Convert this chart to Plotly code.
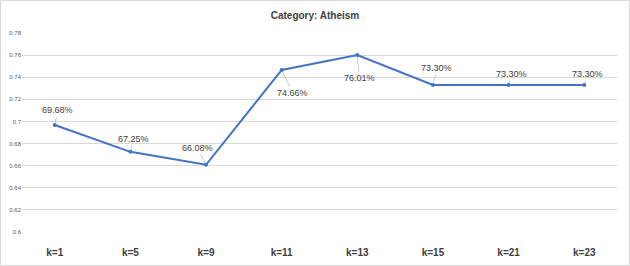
import plotly.graph_objects as go

categories = ["k=1", "k=5", "k=9", "k=11", "k=13", "k=15", "k=21", "k=23"]
accuracy = [0.6968, 0.6725, 0.6608, 0.7466, 0.7601, 0.7330, 0.7330, 0.7330]
labels = ["69.68%", "67.25%", "66.08%", "74.66%", "76.01%", "73.30%", "73.30%", "73.30%"]
tick_vals = [0.60, 0.62, 0.64, 0.66, 0.68, 0.70, 0.72, 0.74, 0.76, 0.78]
tick_text = ["0.6", "0.62", "0.64", "0.66", "0.68", "0.7", "0.72", "0.74", "0.76", "0.78"]

label_offsets = [(3, -15), (3, -13), (-9, -17), (11, 23), (2, 23), (4, -17), (3, -11), (3, -11)]

FONT = "Liberation Sans Narrow, Liberation Sans, Arial"

fig = go.Figure()
fig.add_trace(go.Scatter(
    x=categories, y=accuracy, mode="lines+markers",
    line=dict(color="#4472C4", width=2),
    marker=dict(color="#4472C4", size=4),
    hoverinfo="skip",
))

for c, v, t, (ax, ay) in zip(categories, accuracy, labels, label_offsets):
    fig.add_annotation(
        x=c, y=v, text=t, showarrow=True, arrowhead=0, arrowwidth=0.6,
        arrowcolor="#a6a6a6", ax=ax, ay=ay, standoff=2,
        font=dict(family=FONT, size=9, color="#404040"),
    )

fig.update_layout(
    width=630, height=266,
    margin=dict(l=22, r=13, t=33, b=34, autoexpand=False),
    paper_bgcolor="white", plot_bgcolor="white",
    showlegend=False,
    title=dict(text="Category: Atheism", x=0.5, xanchor="center", y=0.94, yanchor="middle",
               font=dict(family=FONT, size=10, color="#404040", weight="bold")),
    xaxis=dict(showgrid=False, showline=False, ticks="", zeroline=False, ticklabelstandoff=13,
               automargin=False,
               tickfont=dict(family=FONT, size=10, color="#404040", weight="bold")),
    yaxis=dict(range=[0.6, 0.78], tickvals=tick_vals, ticktext=tick_text,
               showgrid=True, gridcolor="#d9d9d9", gridwidth=1, zeroline=False,
               showline=False, ticks="", automargin=False,
               tickfont=dict(family=FONT, size=6, color="#595959")),
    shapes=[dict(type="rect", xref="paper", yref="paper", x0=-0.0361, x1=1.021, y0=-0.168, y1=1.163,
                 line=dict(color="#d9d9d9", width=1))],
)

fig.write_html("out.html", config={"displayModeBar": False},
               post_script="document.body.style.margin='0';")
